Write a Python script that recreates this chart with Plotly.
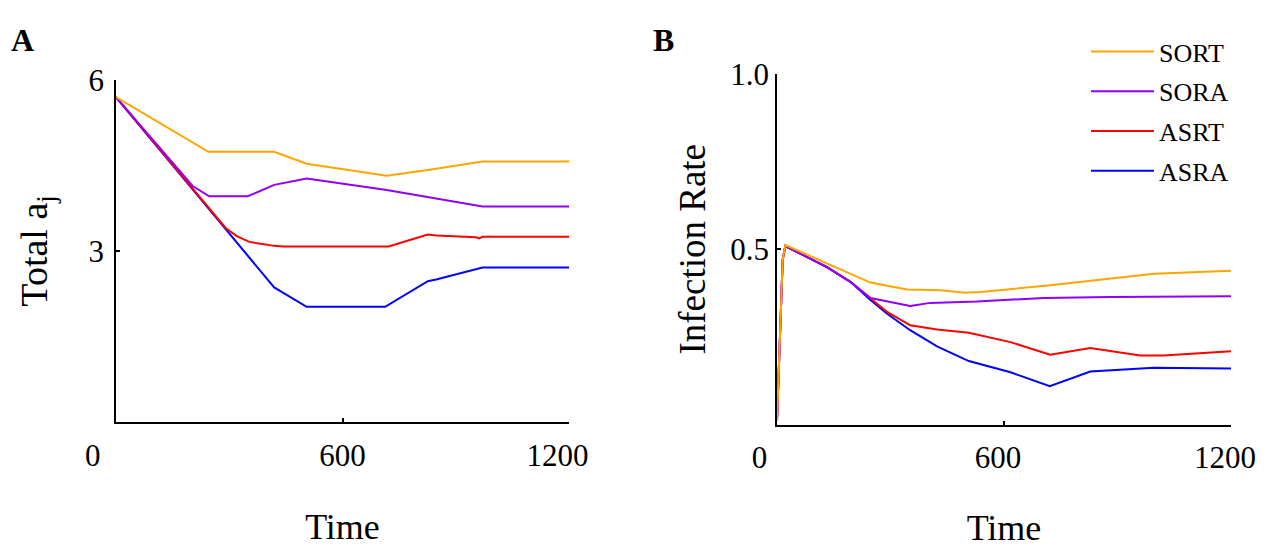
import plotly.graph_objects as go

# panel A: total a_j over time
time_a_sort = [0, 245, 419, 505, 717, 826, 971, 1200]
a_sort = [5.70, 4.74, 4.74, 4.53, 4.32, 4.42, 4.57, 4.57]
time_a_sora = [0, 180, 203, 247, 349, 419, 505, 717, 971, 1200]
a_sora = [5.70, 4.30, 4.14, 3.96, 3.96, 4.16, 4.27, 4.07, 3.78, 3.78]
time_a_asrt = [0, 291, 320, 353, 419, 442, 722, 826, 848, 954, 962, 971, 1200]
a_asrt = [5.70, 3.40, 3.26, 3.16, 3.09, 3.08, 3.08, 3.29, 3.27, 3.24, 3.22, 3.25, 3.25]
time_a_asra = [0, 419, 505, 713, 826, 848, 971, 1200]
a_asra = [5.70, 2.36, 2.02, 2.02, 2.47, 2.50, 2.71, 2.71]

# panel B: infection rate over time
time_b_sort = [0, 15, 22, 132, 247, 344, 432, 498, 537, 722, 881, 996, 1200]
b_sort = [0.01, 0.47, 0.512, 0.459, 0.405, 0.385, 0.383, 0.376, 0.378, 0.397, 0.416, 0.430, 0.439]
time_b_sora = [0, 15, 22, 132, 194, 247, 352, 405, 529, 705, 881, 1200]
b_sora = [0.01, 0.47, 0.509, 0.449, 0.407, 0.361, 0.338, 0.347, 0.351, 0.361, 0.364, 0.366]
time_b_asrt = [0, 15, 22, 132, 194, 247, 291, 352, 423, 507, 617, 722, 828, 960, 1022, 1200]
b_asrt = [0.01, 0.47, 0.509, 0.449, 0.407, 0.359, 0.321, 0.283, 0.271, 0.262, 0.235, 0.199, 0.218, 0.197, 0.197, 0.209]
time_b_asra = [0, 15, 22, 132, 194, 247, 291, 352, 423, 507, 617, 721, 828, 996, 1200]
b_asra = [0.01, 0.47, 0.509, 0.449, 0.407, 0.355, 0.316, 0.269, 0.223, 0.181, 0.149, 0.109, 0.151, 0.162, 0.160]

names = ["SORT", "SORA", "ASRT", "ASRA"]
colors = ["#FFA500", "#8F00FF", "#FF0000", "#0000FF"]

x_ticks = [0, 600, 1200]
a_ticks = [3, 6]
b_ticks = [0.5, 1.0]

FONT = "Liberation Serif"
NB = "\u00a0"

series_a = [(time_a_sort, a_sort), (time_a_sora, a_sora), (time_a_asrt, a_asrt), (time_a_asra, a_asra)]
series_b = [(time_b_sort, b_sort), (time_b_sora, b_sora), (time_b_asrt, b_asrt), (time_b_asra, b_asra)]

fig = go.Figure()

# draw blue first so purple sits on top, like the original
for i in [3, 2, 1, 0]:
    fig.add_trace(go.Scatter(x=series_a[i][0], y=series_a[i][1], mode="lines",
                             line=dict(color=colors[i], width=2),
                             showlegend=False, xaxis="x", yaxis="y"))
for i in [3, 2, 1, 0]:
    fig.add_trace(go.Scatter(x=series_b[i][0], y=series_b[i][1], mode="lines",
                             name=names[i], legendrank=i + 1, legendgroup=names[i],
                             line=dict(color=colors[i], width=2),
                             xaxis="x2", yaxis="y2"))

axis_style = dict(showline=True, linecolor="black", linewidth=1.5, ticks="inside",
                  ticklen=4, tickwidth=1.5, tickcolor="black", showgrid=False,
                  zeroline=False, automargin=False, ticklabeloverflow="allow",
                  tickfont=dict(family=FONT, size=31, color="black"))

# margins in px, domains worked out from the reference pixel positions
# (the page body adds 8px round the figure, so take that off)
OFF = 8
FIG_W, FIG_H = 1267 - OFF, 555 - OFF
ML, MR, MT, MB = 60, 30, 20, 60
W = FIG_W - ML - MR
H = FIG_H - MT - MB


def px_x(p):
    return (p - OFF - ML) / W


def px_y(p):
    return 1 - (p - OFF - MT) / H


fig.update_layout(
    width=FIG_W, height=FIG_H,
    margin=dict(l=ML, r=MR, t=MT, b=MB, autoexpand=False),
    paper_bgcolor="white", plot_bgcolor="white",
    font=dict(family=FONT, color="black"),
    xaxis=dict(domain=[px_x(116), px_x(569)], range=[0, 1200], tickvals=x_ticks,
               ticktext=["0" + NB * 6, "600", "1200" + NB * 3], ticklabelstandoff=5,
               title=dict(text="Time", font=dict(size=36), standoff=42),
               anchor="y", **axis_style),
    yaxis=dict(domain=[px_y(422), px_y(80)], range=[0, 6], tickvals=a_ticks,
               ticktext=[str(v) for v in a_ticks], ticklabelstandoff=4,
               title=dict(text="Total a<sub>j</sub>", font=dict(size=38), standoff=29),
               anchor="x", **axis_style),
    xaxis2=dict(domain=[px_x(777), px_x(1231)], range=[0, 1200], tickvals=x_ticks,
                ticktext=["0" + NB * 3, "600", "1200"], ticklabelstandoff=5,
                ticklabelshift=-6,
                title=dict(text="Time", font=dict(size=36), standoff=40),
                anchor="y2", **axis_style),
    yaxis2=dict(domain=[px_y(424.5), px_y(74)], range=[0, 1], tickvals=b_ticks,
                ticktext=["0.5", "1.0"],
                title=dict(text="Infection Rate", font=dict(size=37), standoff=13),
                anchor="x2", **axis_style),
    legend=dict(x=px_x(1086), y=px_y(28), xanchor="left", yanchor="top",
                font=dict(family=FONT, size=26), tracegroupgap=3, itemwidth=63,
                bgcolor="rgba(0,0,0,0)"),
    annotations=[
        dict(text="<b>A</b>", x=px_x(9), y=px_y(20), xref="paper", yref="paper",
             xanchor="left", yanchor="top", showarrow=False, font=dict(size=32)),
        dict(text="<b>B</b>", x=px_x(651), y=px_y(20), xref="paper", yref="paper",
             xanchor="left", yanchor="top", showarrow=False, font=dict(size=32)),
    ],
)

fig.write_html("out.html")
